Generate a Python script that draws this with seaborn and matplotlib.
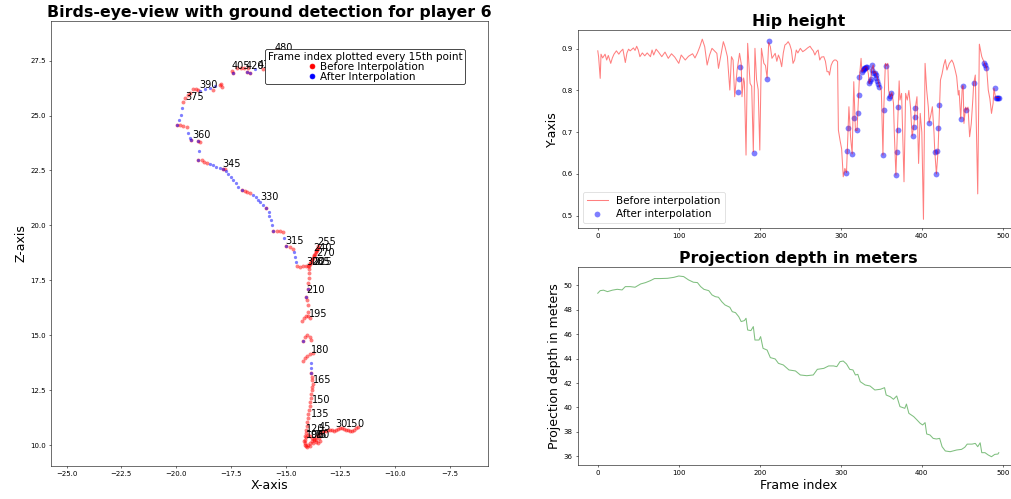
import matplotlib
matplotlib.use("Agg")
import matplotlib.pyplot as plt
import seaborn as sns
import pandas as pd
from matplotlib.lines import Line2D

# ---------------- Birds-eye view trajectory ----------------
raw_x = [-11.70, -11.79, -11.88, -11.97, -12.06, -12.16, -12.25, -12.34, -12.43, -12.52,
         -12.61, -12.70, -12.80, -12.89, -12.98, -13.07, -13.16, -13.25, -13.34, -13.43,
         -13.53, -13.62, -13.71, -13.80, -13.89, -13.98, -14.07, -14.12, -14.12, -14.07,
         -13.98, -13.89, -13.80, -13.71, -13.62, -13.53, -13.43, -13.48, -13.62, -13.75,
         -13.89, -14.03, -14.12, -14.16, -14.12, -14.07, -14.07,
         -14.03, -14.03, -13.98, -13.98, -13.94, -13.89, -13.89, -13.84, -13.84, -13.80,
         -13.80, -13.75, -13.80, -13.80,
         -13.84, -14.21,
         -14.21, -14.12, -14.03, -13.89, -13.75,
         -14.12, -14.03, -13.89, -13.84,
         -14.26, -14.16, -14.07, -13.98, -13.89,
         -13.98, -13.98, -14.03, -14.07, -13.98, -13.98, -13.94, -13.94, -13.94, -13.94,
         -13.89, -13.84, -13.80, -13.75, -13.71, -13.66, -13.62, -13.57, -13.53, -13.53,
         -13.57, -13.62, -13.71, -13.80, -13.89, -13.98, -14.07, -14.21, -14.35, -14.48,
         -14.67, -14.80, -14.99, -15.12, -15.26, -15.40, -15.58, -15.90, -16.63, -16.77,
         -16.86, -17.00, -17.77, -17.86, -18.59, -18.73, -18.82, -19.00, -18.91, -19.00,
         -19.32, -19.50, -19.69, -19.82, -19.96,
         -19.69, -19.60, -19.46, -19.37, -19.23, -19.09, -19.00, -18.00, -17.91, -17.95, -18.32,
         -17.45, -17.40, -17.22, -17.04, -16.90, -16.72, -16.77, -16.63, -16.03, -15.80,
         -15.63, -15.54, -15.49, -15.45]
raw_z = [10.83, 10.79, 10.70, 10.65, 10.65, 10.70, 10.70, 10.74, 10.79, 10.79,
         10.74, 10.70, 10.65, 10.70, 10.70, 10.70, 10.65, 10.65, 10.61, 10.56,
         10.47, 10.38, 10.29, 10.20, 10.11, 10.02, 9.97, 10.11, 10.24, 10.38,
         10.47, 10.43, 10.33, 10.24, 10.15, 10.11, 10.20, 10.33, 10.24, 10.11,
         9.97, 9.93, 10.02, 10.20, 10.43, 10.56, 10.70,
         10.88, 11.06, 11.24, 11.43, 11.61, 11.79, 11.97, 12.15, 12.34, 12.52,
         12.65, 12.79, 12.97, 13.11,
         13.29, 14.75,
         13.84, 13.97, 14.06, 14.15, 14.20,
         14.93, 15.02, 14.93, 14.79,
         15.66, 15.79, 15.88, 15.88, 15.79,
         16.07, 16.39, 16.61, 16.75, 17.11, 17.39, 17.61, 17.84, 18.02, 18.16,
         18.25, 18.34, 18.43, 18.52, 18.61, 18.70, 18.80, 18.89, 18.98, 19.07,
         18.93, 18.84, 18.66, 18.48, 18.29, 18.16, 18.16, 18.16, 18.11, 18.16,
         18.93, 19.02, 19.07, 19.70, 19.75, 19.75, 19.75, 20.79, 21.48, 21.52,
         21.57, 21.62, 22.57, 22.57, 22.84, 22.89, 22.98, 22.98, 23.80, 23.85,
         23.89, 24.48, 24.53, 24.57, 24.57,
         25.62, 25.80, 25.94, 26.03, 26.21, 26.21, 26.17, 26.39, 26.30, 26.44, 26.17,
         27.03, 26.94, 27.17, 27.17, 27.17, 27.17, 26.99, 26.94, 27.12, 27.26,
         27.44, 27.67, 27.90, 27.99]

interp_x = [-13.84, -13.84, -13.84, -14.21, -14.07, -13.98, -14.51, -14.55, -14.60, -14.99,
            -15.08, -15.58, -15.63, -15.67, -15.74, -15.78, -15.90, -16.03, -16.15, -16.26,
            -16.35, -16.47, -17.00, -17.18, -17.27, -17.39, -17.50, -17.61, -17.70, -17.86,
            -18.00, -18.16, -18.32, -18.46, -19.00, -18.96, -19.00, -19.32, -19.37, -19.46,
            -19.96, -19.87, -19.78, -19.73, -18.91, -18.68, -18.46, -18.23, -17.40, -16.77,
            -16.63, -16.40]
interp_z = [13.29, 13.52, 13.75, 14.75, 16.75, 17.11, 18.34, 18.57, 18.80, 19.07,
            19.43, 19.75, 20.02, 20.25, 20.43, 20.61, 20.79, 20.93, 21.07, 21.16,
            21.28, 21.37, 21.62, 21.75, 21.93, 22.07, 22.21, 22.34, 22.46, 22.57,
            22.62, 22.66, 22.73, 22.80, 22.98, 23.39, 23.85, 23.89, 23.98, 24.21,
            24.57, 24.80, 25.03, 25.35, 26.10, 26.19, 26.26, 26.33, 26.94, 26.99,
            26.94, 27.12]

label_frames = [0, 15, 30, 45, 60, 75, 90, 105, 120, 135, 150, 165, 180, 195, 210, 225,
                240, 255, 270, 285, 300, 315, 330, 345, 360, 375, 390, 405, 420, 435,
                450, 465, 480]
label_x = [-11.70, -12.25, -12.75, -13.48, -13.53, -13.71, -13.89, -14.07, -14.07, -13.86,
           -13.79, -13.77, -13.86, -13.92, -14.07, -13.75, -13.74, -13.54, -13.58, -13.81,
           -14.04, -14.99, -16.17, -17.88, -19.26, -19.60, -18.95, -17.47, -16.81, -16.26,
           -15.90, -15.63, -15.49]
label_z = [10.83, 10.83, 10.83, 10.70, 10.33, 10.33, 10.33, 10.33, 10.62, 11.30,
           11.91, 12.82, 14.19, 15.83, 16.92, 18.21, 18.86, 19.11, 18.61, 18.21,
           18.21, 19.16, 21.16, 22.68, 23.97, 25.71, 26.24, 27.11, 27.11, 27.17,
           27.44, 27.62, 27.95]

# ---------------- Hip height ----------------
hip_frames = [0, 1, 3, 4, 6, 9, 11, 13, 16, 18, 20, 23, 26, 28, 31, 34, 36, 38, 40, 44,
              46, 48, 50, 52, 55, 58, 61, 65, 67, 69, 72, 75, 79, 83, 87, 91, 95, 100, 103, 108,
              112, 117, 120, 123, 126, 129, 132, 135, 138, 141, 144, 147, 149, 152, 155, 157, 160, 163, 165, 167,
              169, 172, 175, 177, 178, 180, 181, 183, 185, 188, 190, 192, 194, 196, 198, 200, 202, 205, 207, 209,
              211, 213, 215, 217, 219, 221, 223, 225, 227, 229, 231, 233, 235, 237, 239, 241, 243, 245, 247, 250,
              253, 256, 259, 262, 264, 266, 268, 270, 272, 274, 276, 279, 281, 283, 285, 286, 288, 290, 292, 294,
              296, 297, 299, 301, 303, 305, 307, 308, 309, 310, 312, 314, 316, 318, 320, 321, 322, 323, 325, 326,
              328, 330, 332, 334, 335, 337, 338, 340, 341, 343, 345, 347, 348, 350, 352, 353, 355, 356, 358, 359,
              361, 363, 365, 366, 368, 369, 370, 371, 372, 373, 375, 378, 380, 382, 384, 386, 388, 390, 391, 392,
              394, 396, 398, 400, 402, 404, 406, 408, 409, 411, 413, 415, 416, 418, 420, 421, 422, 423, 425, 427,
              429, 431, 434, 437, 439, 441, 443, 445, 446, 448, 450, 451, 452, 454, 455, 457, 459, 461, 463, 464,
              466, 469, 471, 474, 477, 478, 480, 482, 484, 486, 488, 489, 491, 495]
hip_values = [0.895, 0.881, 0.829, 0.887, 0.878, 0.887, 0.873, 0.884, 0.865, 0.878, 0.887, 0.895, 0.887, 0.893, 0.899, 0.867, 0.890, 0.899, 0.895, 0.902,
              0.896, 0.906, 0.897, 0.881, 0.890, 0.883, 0.890, 0.881, 0.897, 0.885, 0.899, 0.892, 0.881, 0.892, 0.877, 0.888, 0.880, 0.865, 0.885, 0.873,
              0.882, 0.888, 0.878, 0.890, 0.905, 0.923, 0.905, 0.861, 0.885, 0.901, 0.895, 0.889, 0.853, 0.885, 0.917, 0.905, 0.881, 0.801, 0.881, 0.873,
              0.785, 0.849, 0.889, 0.865, 0.785, 0.830, 0.820, 0.645, 0.913, 0.817, 0.810, 0.653, 0.901, 0.826, 0.802, 0.657, 0.901, 0.865, 0.860, 0.830,
              0.915, 0.905, 0.877, 0.883, 0.889, 0.870, 0.885, 0.875, 0.857, 0.890, 0.909, 0.912, 0.917, 0.910, 0.897, 0.865, 0.873, 0.897, 0.890, 0.901,
              0.893, 0.897, 0.902, 0.906, 0.900, 0.895, 0.885, 0.893, 0.897, 0.873, 0.880, 0.881, 0.870, 0.845, 0.845, 0.837, 0.860, 0.869, 0.873, 0.873,
              0.869, 0.705, 0.681, 0.660, 0.593, 0.613, 0.603, 0.657, 0.709, 0.761, 0.689, 0.648, 0.821, 0.705, 0.704, 0.746, 0.789, 0.833, 0.877, 0.845,
              0.850, 0.855, 0.857, 0.840, 0.817, 0.827, 0.850, 0.861, 0.841, 0.845, 0.831, 0.816, 0.809, 0.800, 0.645, 0.754, 0.865, 0.859, 0.865, 0.800,
              0.785, 0.795, 0.770, 0.700, 0.597, 0.653, 0.706, 0.761, 0.823, 0.777, 0.793, 0.581, 0.793, 0.777, 0.800, 0.760, 0.691, 0.713, 0.736, 0.759,
              0.785, 0.625, 0.745, 0.700, 0.491, 0.865, 0.801, 0.760, 0.723, 0.740, 0.761, 0.700, 0.653, 0.600, 0.655, 0.711, 0.766, 0.825, 0.840, 0.861,
              0.874, 0.849, 0.865, 0.873, 0.865, 0.850, 0.833, 0.789, 0.800, 0.732, 0.811, 0.811, 0.721, 0.760, 0.753, 0.760, 0.689, 0.720, 0.780, 0.817,
              0.837, 0.552, 0.911, 0.881, 0.867, 0.861, 0.855, 0.801, 0.780, 0.745, 0.770, 0.805, 0.783, 0.783]

hip_interp_frames = [173, 174, 175, 193, 209, 211, 307, 308, 309, 314, 316, 320, 321, 322, 323, 326, 327, 328, 329, 330,
                     331, 332, 335, 336, 337, 338, 339, 340, 342, 343, 344, 345, 346, 347, 352, 353, 356, 360, 361, 362,
                     368, 369, 370, 371, 389, 390, 391, 392, 409, 416, 418, 419, 420, 421, 448, 451, 455, 464, 477, 478,
                     479, 490, 492, 493, 494, 495]
hip_interp_values = [0.796, 0.827, 0.857, 0.650, 0.828, 0.919, 0.603, 0.656, 0.709, 0.648, 0.735, 0.704, 0.746, 0.789, 0.833, 0.845, 0.848, 0.851, 0.853, 0.855,
                     0.856, 0.857, 0.817, 0.823, 0.827, 0.850, 0.861, 0.841, 0.842, 0.838, 0.831, 0.823, 0.816, 0.809, 0.645, 0.754, 0.859, 0.782, 0.787, 0.795,
                     0.597, 0.653, 0.706, 0.761, 0.691, 0.713, 0.736, 0.759, 0.723, 0.653, 0.600, 0.655, 0.711, 0.766, 0.732, 0.811, 0.753, 0.817, 0.867, 0.861,
                     0.855, 0.805, 0.783, 0.783, 0.783, 0.783]

# ---------------- Projection depth ----------------
depth_frames = [0, 3, 7, 12, 18, 24, 30, 34, 40, 46, 53, 59, 65, 70, 77, 86, 94, 100, 106, 112,
                118, 123, 127, 131, 137, 141, 145, 149, 153, 157, 163, 166, 170, 174, 177, 181, 183, 185, 189, 192,
                194, 199, 201, 204, 209, 213, 219, 223, 229, 236, 244, 250, 258, 266, 271, 279, 285, 291, 295, 299,
                303, 307, 311, 315, 318, 321, 324, 330, 336, 342, 349, 354, 356, 361, 365, 369, 373, 379, 381, 384,
                390, 394, 398, 401, 404, 406, 410, 414, 418, 422, 425, 429, 435, 443, 449, 453, 456, 462, 466, 469,
                472, 474, 478, 482, 486, 490, 494, 495]
depth_values = [49.35, 49.56, 49.60, 49.48, 49.60, 49.67, 49.62, 49.89, 49.89, 49.84, 50.11, 50.22, 50.38, 50.55, 50.55, 50.57, 50.65, 50.76, 50.71, 50.44,
                50.25, 50.22, 49.89, 49.67, 49.56, 49.21, 49.07, 49.02, 48.66, 48.39, 48.20, 47.84, 47.76, 47.43, 47.03, 47.11, 47.30, 46.34, 46.29, 46.62,
                45.52, 45.52, 45.80, 44.84, 44.70, 44.08, 43.97, 43.61, 43.48, 43.07, 42.99, 42.66, 42.60, 42.66, 43.12, 43.20, 43.40, 43.40, 43.34, 43.75,
                43.80, 43.56, 43.12, 43.07, 42.66, 42.71, 42.11, 41.84, 41.76, 41.43, 41.49, 41.62, 41.02, 40.88, 40.67, 40.94, 40.07, 39.93, 40.28, 39.52,
                39.25, 38.98, 38.70, 38.57, 38.76, 37.83, 37.75, 37.47, 37.42, 37.47, 36.79, 36.44, 36.38, 36.52, 36.57, 36.74, 37.00, 37.00, 37.06, 36.79,
                37.11, 36.30, 36.30, 36.11, 35.97, 36.16, 36.19, 36.30]

plt.rcParams['font.family'] = ['DejaVu Sans']

fig = plt.figure(figsize=(1011 / 50, 499 / 50), dpi=50)
ax1 = fig.add_axes([0.0501, 0.0667, 0.4325, 0.8912])
ax2 = fig.add_axes([0.5714, 0.5425, 0.4368, 0.3974])
ax3 = fig.add_axes([0.5714, 0.0681, 0.4368, 0.3962])

# Left: trajectory
raw_df = pd.DataFrame({"x": raw_x, "z": raw_z})
int_df = pd.DataFrame({"x": interp_x, "z": interp_z})
sns.scatterplot(data=raw_df, x="x", y="z", color="red", alpha=0.5, s=32, linewidth=0, ax=ax1)
sns.scatterplot(data=int_df, x="x", y="z", color="blue", alpha=0.5, s=22, linewidth=0, ax=ax1)
for f, x, z in zip(label_frames, label_x, label_z):
    ax1.text(x, z, str(f), fontsize=14)
ax1.set_xlim(-25.73, -5.76)
ax1.set_ylim(9.07, 29.3)
ax1.set_xticks([-25.0, -22.5, -20.0, -17.5, -15.0, -12.5, -10.0, -7.5])
ax1.set_yticks([10.0, 12.5, 15.0, 17.5, 20.0, 22.5, 25.0, 27.5])
ax1.set_xlabel("X-axis", fontsize=18)
ax1.set_ylabel("Z-axis", fontsize=18)
ax1.set_title("Birds-eye-view with ground detection for player 6", fontsize=22.6, fontweight="bold")
handles = [Line2D([], [], marker="o", color="red", linestyle="", markersize=7, label="Before Interpolation"),
           Line2D([], [], marker="o", color="blue", linestyle="", markersize=7, label="After Interpolation")]
leg = ax1.legend(handles=handles, title="Frame index plotted every 15th point", fontsize=15,
                 title_fontsize=15, loc="upper left", bbox_to_anchor=(0.49, 0.937),
                 labelspacing=0.0, borderpad=0.25, handlelength=1.3, handletextpad=0.15,
                 framealpha=1, edgecolor="black", borderaxespad=0)
leg.set_zorder(10)

# Right top: hip height
sns.lineplot(x=hip_frames, y=hip_values, color="red", alpha=0.5, linewidth=1.5,
             label="Before interpolation", ax=ax2, sort=False, estimator=None)
sns.scatterplot(x=hip_interp_frames, y=hip_interp_values, color="blue", alpha=0.5, s=70,
                linewidth=0, label="After interpolation", ax=ax2)
ax2.set_xlim(-24.8, 520.3)
ax2.set_ylim(0.4695, 0.945)
ax2.set_xticks([0, 100, 200, 300, 400, 500])
ax2.set_yticks([0.5, 0.6, 0.7, 0.8, 0.9])
ax2.set_ylabel("Y-axis", fontsize=18)
ax2.set_xlabel("")
ax2.set_title("Hip height", fontsize=22.6, fontweight="bold")
ax2.legend(loc="lower left", fontsize=15, labelspacing=0.3)

# Right bottom: projection depth
sns.lineplot(x=depth_frames, y=depth_values, color="green", alpha=0.5, linewidth=1.5,
             ax=ax3, sort=False, estimator=None)
ax3.set_xlim(-24.8, 520.3)
ax3.set_ylim(35.29, 51.47)
ax3.set_xticks([0, 100, 200, 300, 400, 500])
ax3.set_yticks([36, 38, 40, 42, 44, 46, 48, 50])
ax3.set_xlabel("Frame index", fontsize=18)
ax3.set_ylabel("Projection depth in meters", fontsize=18)
ax3.set_title("Projection depth in meters", fontsize=22.6, fontweight="bold")

for ax in (ax1, ax2, ax3):
    ax.tick_params(labelsize=10)

fig.savefig("out.png", dpi=50)
